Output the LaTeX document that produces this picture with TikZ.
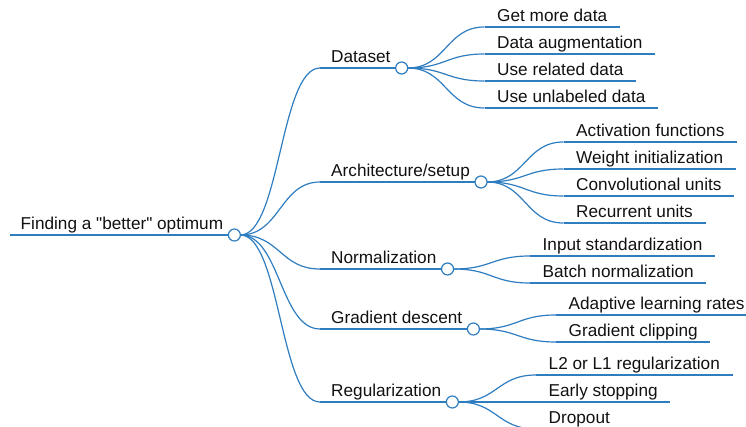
\documentclass[tikz,border=0pt]{standalone}
\usepackage{fontspec}
\setmainfont{Liberation Sans}
\usetikzlibrary{calc}
\definecolor{mmblue}{RGB}{46,125,192}
\definecolor{mmtext}{RGB}{17,17,17}
\newcommand\mmlink[2]{\draw[link] let \p1=(#1), \p2=(#2) in (\p1) .. controls ({0.5*\x1+0.5*\x2},\y1) and ({0.5*\x1+0.5*\x2},\y2) .. (\p2);}
\begin{document}
\begin{tikzpicture}[x=1pt,y=-1pt,
  topic/.style={anchor=south west, inner xsep=11pt, inner ysep=5pt, text depth=0pt,
    font=\fontsize{17.2}{20}\selectfont, text=mmtext},
  leaf/.style={topic, inner xsep=12.5pt},
  link/.style={draw=mmblue, line width=1.2pt},
  knob/.style={circle, draw=mmblue, fill=white, line width=1.2pt, minimum size=12pt, inner sep=0pt}]
\useasboundingbox (0,0) rectangle (746,427);
\clip (0,0) rectangle (746,427);
% text nodes
\node[topic] (root) at (9.5,235) {Finding a \textquotedbl better\textquotedbl\ optimum};
\node[topic] (ds) at (320,68) {Dataset};
\node[topic] (ar) at (320,182) {Architecture/setup};
\node[topic] (nm) at (320,269) {Normalization};
\node[topic] (gd) at (320,329) {Gradient descent};
\node[topic] (rg) at (320,402) {Regularization};
\node[leaf] (d1) at (484.5,27) {Get more data};
\node[leaf] (d2) at (484.5,54) {Data augmentation};
\node[leaf] (d3) at (484.5,81) {Use related data};
\node[leaf] (d4) at (484.5,108) {Use unlabeled data};
\node[leaf] (a1) at (563.5,142) {Activation functions};
\node[leaf] (a2) at (563.5,169) {Weight initialization};
\node[leaf] (a3) at (563.5,196) {Convolutional units};
\node[leaf] (a4) at (563.5,223) {Recurrent units};
\node[leaf] (n1) at (530,256) {Input standardization};
\node[leaf] (n2) at (530,283) {Batch normalization};
\node[leaf] (g1) at (556,315) {Adaptive learning rates};
\node[leaf] (g2) at (556,342) {Gradient clipping};
\node[leaf] (r1) at (536,375) {L2 or L1 regularization};
\node[leaf] (r2) at (536,402) {Early stopping};
\node[leaf] (r3) at (536,429) {Dropout};
% underlines
\foreach \n in {root,ds,ar,nm,gd,rg,d1,d2,d3,d4,a1,a2,a3,a4,n1,n2,g1,g2,r1,r2,r3}
  \draw[link] (\n.south west) -- (\n.south east);
% knobs
\foreach \n in {root,ds,ar,nm,gd,rg}
  \coordinate (\n k) at (\n.south east);
% curves
\foreach \c in {ds,ar,nm,gd,rg} { \mmlink{$(rootk)+(6,0)$}{\c.south west} }
\foreach \c in {d1,d2,d3,d4} { \mmlink{$(dsk)+(6,0)$}{\c.south west} }
\foreach \c in {a1,a2,a3,a4} { \mmlink{$(ark)+(6,0)$}{\c.south west} }
\foreach \c in {n1,n2} { \mmlink{$(nmk)+(6,0)$}{\c.south west} }
\foreach \c in {g1,g2} { \mmlink{$(gdk)+(6,0)$}{\c.south west} }
\foreach \c in {r1,r2,r3} { \mmlink{$(rgk)+(6,0)$}{\c.south west} }
\foreach \n in {root,ds,ar,nm,gd,rg}
  \node[knob] at (\n k) {};
\end{tikzpicture}
\end{document}
